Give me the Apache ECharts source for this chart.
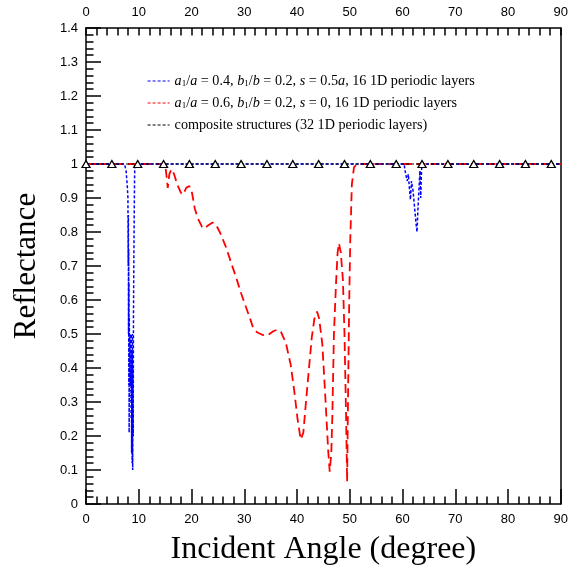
<!DOCTYPE html>
<html><head><meta charset="utf-8">
<script src="https://cdn.jsdelivr.net/npm/echarts@6/dist/echarts.min.js"></script>
<style>html,body{margin:0;padding:0;background:#fff}#c{width:571px;height:572px}</style>
</head><body><div id="c"></div>
<script>
// ---- data ----
const xRange = [0, 90];
const xStep = 10;
const yRange = [0, 1.4];
const yStep = 0.1;

const blueData = [
  [0,1],[7.3,1],[7.6,0.98],[7.85,0.93],[7.95,0.9],[8.0,0.7],[8.03,0.85],[8.06,0.5],[8.09,0.75],
  [8.12,0.35],[8.15,0.65],[8.18,0.21],[8.21,0.55],[8.25,0.3],[8.3,0.5],[8.4,0.35],[8.5,0.5],
  [8.55,0.25],[8.6,0.5],[8.65,0.15],[8.7,0.45],[8.75,0.12],[8.8,0.5],[8.85,0.1],[8.9,0.4],
  [8.95,0.2],[9.0,0.55],[9.1,0.78],[9.2,0.95],[9.25,1],
  [60.3,1],[60.6,0.97],[60.9,0.95],[61.1,0.97],[61.3,0.93],[61.5,0.895],[61.7,0.95],
  [62.0,0.92],[62.3,0.87],[62.6,0.82],[62.75,0.8],[62.9,0.86],[63.1,0.92],[63.3,0.98],
  [63.45,0.9],[63.6,0.98],[63.7,1],[90,1]
];

const redData = [
  [0,1],[15.0,1],[15.3,0.96],[15.5,0.93],[15.8,0.97],[16.2,0.985],[16.7,0.97],[17.3,0.94],
  [18.0,0.915],[18.4,0.91],[19.0,0.93],[19.6,0.935],[20.1,0.915],[20.6,0.87],[21.2,0.84],
  [22.0,0.815],[22.5,0.81],[23.2,0.82],[24.0,0.828],[24.7,0.82],[25.5,0.795],[26.5,0.757],
  [27.5,0.71],[28.4,0.669],[29.4,0.62],[30.3,0.58],[31.0,0.55],[31.6,0.522],[32.4,0.505],
  [33.5,0.497],[34.5,0.497],[35.5,0.508],[36.3,0.513],[37.0,0.505],[37.9,0.473],[38.8,0.41],
  [39.5,0.33],[40.1,0.25],[40.7,0.19],[41.2,0.21],[41.7,0.3],[42.3,0.404],[42.8,0.49],
  [43.3,0.545],[43.8,0.566],[44.2,0.545],[44.8,0.47],[45.4,0.306],[45.9,0.16],[46.2,0.095],
  [46.5,0.15],[46.7,0.26],[47.0,0.5],[47.4,0.65],[47.7,0.74],[47.95,0.767],[48.3,0.74],
  [48.7,0.66],[49.0,0.5],[49.3,0.26],[49.5,0.066],[49.7,0.35],[49.9,0.6],[50.1,0.78],
  [50.4,0.94],[50.8,0.99],[51.4,1],[90,1]
];

const compositeData = [[0,1],[90,1]];
const compositeMarkerX = [0,4.9,9.8,14.7,19.6,24.5,29.4,34.3,39.2,44.1,49,53.9,58.8,63.7,68.6,73.5,78.4,83.3,88.2];
const compositeMarkerY = 1;

const seriesNames = ['blue', 'red', 'composite'];
const legendTexts = {
  blue: '{i|a}{sub|1}{n|/}{i|a}{n| = 0.4, }{i|b}{sub|1}{n|/}{i|b}{n| = 0.2, }{i|s}{n| = 0.5}{i|a}{n|, 16 1D periodic layers}',
  red: '{i|a}{sub|1}{n|/}{i|a}{n| = 0.6, }{i|b}{sub|1}{n|/}{i|b}{n| = 0.2, }{i|s}{n| = 0, 16 1D periodic layers}',
  composite: '{n|composite structures (32 1D periodic layers)}'
};

// ---- chart ----
const serif = 'Liberation Serif';
const sans = 'Liberation Sans';
const chart = echarts.init(document.getElementById('c'));

const tickCommon = {
  axisLine: { show: true, onZero: false, lineStyle: { color: '#000', width: 1.5 } },
  splitLine: { show: false },
};

chart.setOption({
  animation: false,
  backgroundColor: '#fff',
  grid: { left: 86, right: 8, top: 28, bottom: 68, containLabel: false },
  legend: {
    data: seriesNames,
    orient: 'vertical',
    left: 142,
    top: 69,
    itemWidth: 22,
    itemHeight: 14,
    itemGap: 7.5,
    itemStyle: { opacity: 0, borderWidth: 0 },
    lineStyle: { width: 1.2, type: [3, 2] },
    formatter: n => legendTexts[n],
    textStyle: {
      fontFamily: serif, fontSize: 14, color: '#000',
      rich: {
        n: { fontFamily: serif, fontSize: 14.2, color: '#000' },
        i: { fontFamily: serif, fontSize: 14.2, fontStyle: 'italic', color: '#000' },
        sub: { fontFamily: serif, fontSize: 9, color: '#000', padding: [6, 0, 0, 0] }
      }
    }
  },
  xAxis: [
    Object.assign({
      type: 'value', position: 'bottom', min: xRange[0], max: xRange[1], interval: xStep,
      name: 'Incident Angle (degree)', nameLocation: 'middle', nameGap: 30,
      nameTextStyle: { fontFamily: serif, fontSize: 32, color: '#000' },
      axisTick: { show: true, inside: true, length: 15, lineStyle: { color: '#000', width: 1.5 } },
      minorTick: { show: true, splitNumber: 5, length: 7.5, lineStyle: { color: '#000', width: 1.5 } },
      axisLabel: { fontFamily: sans, fontSize: 13, color: '#000', margin: 9 }
    }, tickCommon),
    Object.assign({
      type: 'value', position: 'top', min: xRange[0], max: xRange[1], interval: xStep,
      axisTick: { show: true, inside: true, length: 7.5, lineStyle: { color: '#000', width: 1.5 } },
      minorTick: { show: true, splitNumber: 5, length: 7.5, lineStyle: { color: '#000', width: 1.5 } },
      axisLabel: { fontFamily: sans, fontSize: 13, color: '#000', margin: 9 }
    }, tickCommon)
  ],
  yAxis: [
    Object.assign({
      type: 'value', position: 'left', min: yRange[0], max: yRange[1], interval: yStep,
      name: 'Reflectance', nameLocation: 'middle', nameGap: 44,
      nameTextStyle: { fontFamily: serif, fontSize: 31, color: '#000' },
      axisTick: { show: true, inside: true, length: 15, lineStyle: { color: '#000', width: 1.5 } },
      minorTick: { show: true, splitNumber: 5, length: 7.5, lineStyle: { color: '#000', width: 1.5 } },
      axisLabel: { fontFamily: sans, fontSize: 13, color: '#000', margin: 8 }
    }, tickCommon),
    Object.assign({
      type: 'value', position: 'right', min: yRange[0], max: yRange[1], interval: yStep,
      axisTick: { show: false }, minorTick: { show: false }, axisLabel: { show: false }
    }, tickCommon)
  ],
  series: [
    {
      name: 'blue', type: 'line', data: blueData, showSymbol: false, symbol: 'none',
      lineStyle: { color: '#0000ff', width: 1.5, type: [3, 2] }, itemStyle: { color: '#0000ff' }, z: 3
    },
    {
      name: 'red', type: 'line', data: redData, showSymbol: false, symbol: 'none',
      lineStyle: { color: '#ff0000', width: 1.8, type: [9, 5] }, itemStyle: { color: '#ff0000' }, z: 2
    },
    {
      name: 'composite', type: 'line', data: compositeData, showSymbol: false, symbol: 'none',
      lineStyle: { color: '#000', width: 1, type: [3, 2] }, itemStyle: { color: '#000' }, z: 4
    },
    {
      name: 'compositeMarkers', type: 'scatter', symbol: 'triangle', symbolSize: [8, 7],
      data: compositeMarkerX.map(x => [x, compositeMarkerY]),
      itemStyle: { color: '#fff', borderColor: '#000', borderWidth: 1.3, opacity: 1 }, z: 5
    }
  ]
});
</script>
</body></html>
